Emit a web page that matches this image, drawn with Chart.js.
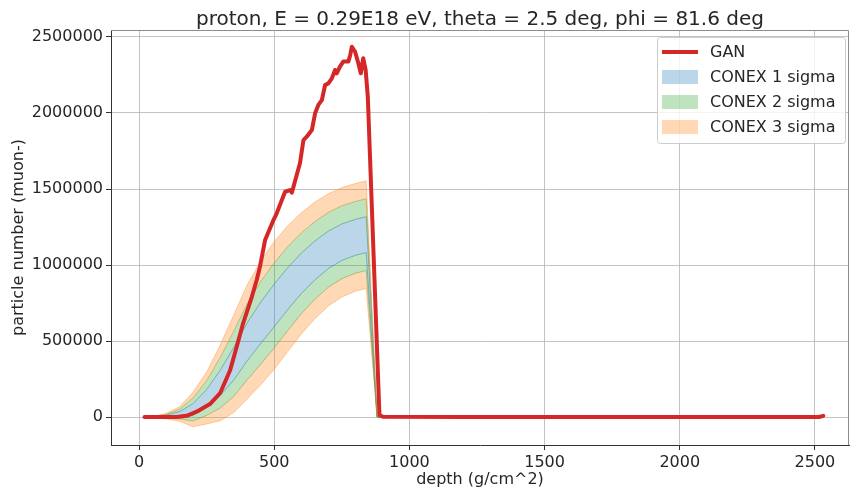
<!DOCTYPE html>
<html>
<head>
<meta charset="utf-8">
<script src="https://cdn.jsdelivr.net/npm/chart.js@4.4.1/dist/chart.umd.min.js"></script>
<style>
  body { margin: 0; background: #fff; }
  canvas { display: block; }
</style>
</head>
<body>
<canvas id="chart" width="850" height="489"></canvas>
<script>
// GAN profile (depth in g/cm^2, particle number)
const ganDepth = [20, 60, 100, 140, 176, 213, 262, 300, 337, 361, 385, 417, 435, 447, 466, 497, 509, 540, 558, 565, 583, 595, 608, 620, 639, 651, 663, 676, 688, 700, 713, 725, 731, 743, 755, 774, 781, 787, 799, 811, 820, 829, 838, 846, 889, 902, 1200, 1600, 2000, 2400, 2515, 2531];
const ganValues = [0, 0, 0, 0, 8000, 35000, 85000, 158000, 309000, 462000, 618000, 791000, 901000, 989000, 1164000, 1296000, 1340000, 1482000, 1493000, 1476000, 1592000, 1669000, 1822000, 1844000, 1888000, 1998000, 2053000, 2085000, 2184000, 2195000, 2228000, 2283000, 2261000, 2305000, 2338000, 2338000, 2382000, 2436000, 2403000, 2327000, 2261000, 2360000, 2283000, 2107000, 13000, 2000, 0, 0, 0, 0, 0, 8000];

// CONEX mean and 1 sigma spread
const conexDepth = [20, 60, 100, 150, 200, 250, 300, 350, 400, 450, 500, 550, 600, 650, 700, 750, 800, 840, 880, 2531];
const conexMean = [0, 1500, 6000, 20000, 50000, 125000, 225000, 350000, 495000, 620000, 735000, 845000, 945000, 1030000, 1100000, 1150000, 1182000, 1200000, 0, 0];
const conexSigma = [0, 2000, 6000, 16000, 38000, 57000, 83000, 107000, 125000, 136000, 140000, 138000, 133000, 128000, 123000, 120000, 118000, 118000, 0, 0];

const xTicks = [0, 500, 1000, 1500, 2000, 2500];
const yTicks = [0, 500000, 1000000, 1500000, 2000000, 2500000];

const titleText = 'proton, E = 0.29E18 eV, theta = 2.5 deg, phi = 81.6 deg';
const FONT = "'DejaVu Sans', sans-serif";

const band = k => conexDepth.map((d, i) => ({ x: d, y: conexMean[i] + k * conexSigma[i] }));

const blueFill = 'rgba(31,119,180,0.3)';
const greenFill = 'rgba(44,160,44,0.3)';
const orangeFill = 'rgba(255,127,14,0.3)';

function edge(data, color, fill, bg) {
    return {
        data: data,
        borderColor: color,
        borderWidth: 1,
        backgroundColor: bg || 'transparent',
        fill: fill,
        pointRadius: 0,
        tension: 0,
        order: 2
    };
}

const datasets = [
    {
        label: 'GAN',
        data: ganDepth.map((d, i) => ({ x: d, y: ganValues[i] })),
        borderColor: '#d62728',
        borderWidth: 4,
        borderJoinStyle: 'round',
        borderCapStyle: 'round',
        pointRadius: 0,
        tension: 0,
        fill: false,
        order: 0
    },
    edge(band(3), 'rgba(255,127,14,0.35)', 2, orangeFill),  // 1
    edge(band(2), 'rgba(150,160,60,0.55)', 3, greenFill),   // 2
    edge(band(1), 'rgba(60,150,150,0.6)', 4, blueFill),     // 3
    edge(band(-1), 'rgba(60,150,150,0.6)', 5, greenFill),   // 4
    edge(band(-2), 'rgba(150,160,60,0.55)', 6, orangeFill), // 5
    edge(band(-3), 'rgba(255,127,14,0.35)', false)          // 6
];

const legendItems = [
    { text: 'GAN', type: 'line', color: '#d62728' },
    { text: 'CONEX 1 sigma', type: 'box', color: blueFill },
    { text: 'CONEX 2 sigma', type: 'box', color: greenFill },
    { text: 'CONEX 3 sigma', type: 'box', color: orangeFill }
];

// titel, legend and the top/right frame
const extras = {
    id: 'extras',
    afterDraw(chart) {
        const ctx = chart.ctx;
        const a = chart.chartArea;
        ctx.save();
        ctx.strokeStyle = '#8c8c8c';
        ctx.lineWidth = 1;
        ctx.beginPath();
        ctx.moveTo(a.left, a.top + 0.5);
        ctx.lineTo(a.right - 0.5, a.top + 0.5);
        ctx.lineTo(a.right - 0.5, a.bottom);
        ctx.stroke();

        ctx.fillStyle = '#262626';
        ctx.font = '20px ' + FONT;
        ctx.textAlign = 'center';
        ctx.textBaseline = 'alphabetic';
        ctx.fillText(titleText, (a.left + a.right) / 2, 25);

        // legend box
        const bx = 657, by = 37, bw = 188, bh = 106;
        ctx.fillStyle = 'rgba(255,255,255,0.8)';
        ctx.strokeStyle = '#cccccc';
        ctx.beginPath();
        ctx.roundRect(bx + 0.5, by + 0.5, bw, bh, 3);
        ctx.fill();
        ctx.stroke();
        ctx.font = '16px ' + FONT;
        ctx.textAlign = 'left';
        ctx.textBaseline = 'middle';
        legendItems.forEach((it, i) => {
            const cy = 52 + i * 25;
            if (it.type === 'line') {
                ctx.strokeStyle = it.color;
                ctx.lineWidth = 4;
                ctx.beginPath();
                ctx.moveTo(662, cy);
                ctx.lineTo(698, cy);
                ctx.stroke();
            } else {
                ctx.fillStyle = it.color;
                ctx.fillRect(662, cy - 7, 36, 14);
            }
            ctx.fillStyle = '#262626';
            ctx.fillText(it.text, 710, cy + 1);
        });
        ctx.restore();
    }
};

new Chart(document.getElementById('chart'), {
    type: 'line',
    data: { datasets: datasets },
    options: {
        responsive: false,
        animation: false,
        layout: { padding: { top: 30, right: 1, left: 0, bottom: 0 } },
        plugins: {
            legend: { display: false },
            tooltip: { enabled: false },
            title: { display: false }
        },
        scales: {
            x: {
                type: 'linear',
                min: -104,
                max: 2626,
                afterBuildTicks: s => { s.ticks = xTicks.map(v => ({ value: v })); },
                afterFit: s => { s.height = 44; },
                grid: { color: 'rgba(176,176,176,0.75)', tickLength: 5, tickColor: '#333' },
                border: { color: '#333', width: 1 },
                ticks: { color: '#262626', font: { family: FONT, size: 16 }, padding: 3, maxRotation: 0, callback: v => String(v) },
                title: { display: true, text: 'depth (g/cm^2)', color: '#262626', font: { family: FONT, size: 16 }, padding: 0 }
            },
            y: {
                type: 'linear',
                min: -184000,
                max: 2546000,
                afterBuildTicks: s => { s.ticks = yTicks.map(v => ({ value: v })); },
                afterFit: s => { s.width = 111; },
                grid: { color: 'rgba(176,176,176,0.75)', tickLength: 5, tickColor: '#333' },
                border: { color: '#333', width: 1 },
                ticks: { color: '#262626', font: { family: FONT, size: 16 }, padding: 3, callback: v => String(v) },
                title: { display: true, text: 'particle number (muon-)', color: '#262626', font: { family: FONT, size: 16 }, padding: { top: 9, bottom: 0 } }
            }
        }
    },
    plugins: [extras]
});
</script>
</body>
</html>
